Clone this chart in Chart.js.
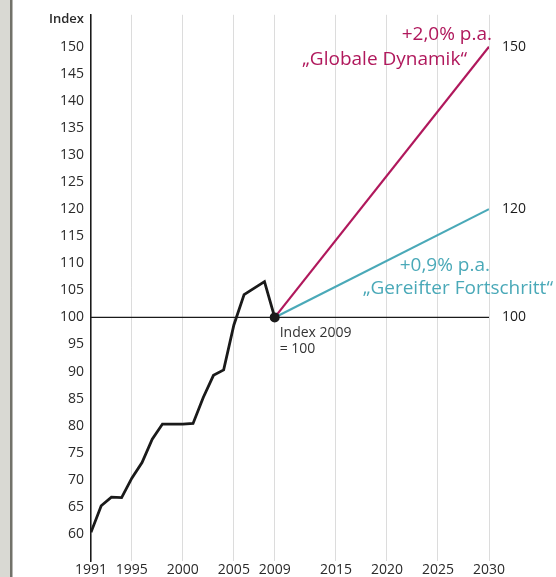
<!DOCTYPE html>
<html>
<head>
<meta charset="utf-8">
<script src="https://cdn.jsdelivr.net/npm/chart.js@4/dist/chart.umd.min.js"></script>
<style>
  html, body { margin: 0; padding: 0; background: #ffffff; }
  canvas { display: block; }
</style>
</head>
<body>
<canvas id="c" width="556" height="577"></canvas>
<script>
// Historical index (2009 = 100)
const histYears  = [1991, 1992, 1993, 1994, 1995, 1996, 1997, 1998, 1999, 2000,
                    2001, 2002, 2003, 2004, 2005, 2006, 2007, 2008, 2009];
const histValues = [60.3, 65.2, 66.8, 66.7, 70.3, 73.2, 77.5, 80.3, 80.3, 80.3,
                    80.4, 85.2, 89.3, 90.3, 98.6, 104.2, 105.4, 106.6, 100];

// Scenario paths 2009 -> 2030
const scenarioYears   = [2009, 2030];
const dynamikValues   = [100, 150];   // +2,0% p.a. "Globale Dynamik"
const fortschrValues  = [100, 120];   // +0,9% p.a. "Gereifter Fortschritt"

// Reference line at index 100
const baseYears  = [1991, 2030];
const baseValues = [100, 100];

// Axis ticks
const xTickYears  = [1991, 1995, 2000, 2005, 2009, 2015, 2020, 2025, 2030];
const yTickValues = [60, 65, 70, 75, 80, 85, 90, 95, 100, 105, 110, 115,
                     120, 125, 130, 135, 140, 145, 150];
const yHeaderValue = 155;
const yHeaderText  = 'Index';

const MAGENTA = '#b0185c';
const TEAL    = '#4aa9b8';
const INK     = '#1a1a1a';
const FONT    = '"Open Sans", "Noto Sans", sans-serif';

const toXY = (xs, ys) => xs.map((x, i) => ({ x, y: ys[i] }));

// Grey page margin strip on the left
const marginStrip = {
  id: 'marginStrip',
  beforeDraw(chart) {
    const ctx = chart.ctx;
    ctx.save();
    ctx.fillStyle = '#d9d9d3';
    ctx.fillRect(0, 0, 10, chart.height);
    ctx.fillStyle = '#72726a';
    ctx.fillRect(10, 0, 2.5, chart.height);
    ctx.restore();
  }
};

// Scenario captions and end-value labels
const captions = {
  id: 'captions',
  afterDatasetsDraw(chart) {
    const { ctx, scales: { x, y } } = chart;
    const xEnd = x.getPixelForValue(scenarioYears[1]);
    const xStart = x.getPixelForValue(scenarioYears[0]);
    const yHi = y.getPixelForValue(dynamikValues[1]);
    const yLo = y.getPixelForValue(fortschrValues[1]);
    const yBase = y.getPixelForValue(baseValues[1]);
    ctx.save();
    ctx.textBaseline = 'middle';

    ctx.font = '19px ' + FONT;
    ctx.textAlign = 'right';
    ctx.fillStyle = MAGENTA;
    ctx.fillText('+2,0% p.a.', xEnd + 3, yHi - 12);
    ctx.fillText('\u201EGlobale Dynamik\u201C', xEnd - 22, yHi + 13);

    ctx.fillStyle = TEAL;
    ctx.fillText('+0,9% p.a.', xEnd + 1, yLo + 56);
    ctx.fillText('\u201EGereifter Fortschritt\u201C', xEnd + 64, yLo + 79);

    ctx.font = '14px ' + FONT;
    ctx.textAlign = 'left';
    ctx.fillStyle = INK;
    ctx.fillText(String(dynamikValues[1]), xEnd + 13, yHi);
    ctx.fillText(String(fortschrValues[1]), xEnd + 13, yLo);
    ctx.fillText(String(baseValues[1]), xEnd + 13, yBase);

    ctx.font = '14px ' + FONT;
    ctx.fillStyle = '#333333';
    ctx.fillText('Index 2009', xStart + 5, yBase + 16);
    ctx.fillText('= 100', xStart + 5, yBase + 32);
    ctx.restore();
  }
};

const lastIdx = histYears.length - 1;

new Chart(document.getElementById('c'), {
  type: 'line',
  data: {
    datasets: [
      {
        data: toXY(histYears, histValues),
        borderColor: INK,
        borderWidth: 2.8,
        pointRadius: ctx => ctx.dataIndex === lastIdx ? 5 : 0,
        pointBackgroundColor: INK,
        pointBorderWidth: 0,
        tension: 0
      },
      {
        data: toXY(scenarioYears, dynamikValues),
        borderColor: MAGENTA,
        borderWidth: 2.2,
        pointRadius: 0
      },
      {
        data: toXY(scenarioYears, fortschrValues),
        borderColor: TEAL,
        borderWidth: 2.2,
        pointRadius: 0
      },
      {
        data: toXY(baseYears, baseValues),
        borderColor: INK,
        borderWidth: 1.4,
        pointRadius: 0
      }
    ]
  },
  options: {
    responsive: false,
    animation: false,
    devicePixelRatio: 1,
    layout: { padding: { left: 0, right: 67, top: 13, bottom: 0 } },
    plugins: {
      legend: { display: false },
      tooltip: { enabled: false }
    },
    scales: {
      x: {
        type: 'linear',
        min: 1991,
        max: 2030,
        afterBuildTicks: s => { s.ticks = xTickYears.map(v => ({ value: v })); },
        afterFit: s => { s.height = 16; },
        grid: { color: '#dcdcdc', lineWidth: 1, drawTicks: false },
        border: { display: false },
        ticks: {
          padding: 1,
          maxRotation: 0,
          autoSkip: false,
          color: '#2a2a2a',
          font: { family: FONT, size: 14 },
          callback: v => String(v)
        }
      },
      y: {
        type: 'linear',
        min: 55,
        max: 155.9,
        afterBuildTicks: s => {
          s.ticks = yTickValues.concat([yHeaderValue]).map(v => ({ value: v }));
        },
        afterFit: s => { s.width = 91; },
        grid: { drawOnChartArea: false, drawTicks: false },
        border: { display: true, color: INK, width: 1.5 },
        ticks: {
          padding: 7,
          autoSkip: false,
          color: '#2a2a2a',
          font: ctx => (ctx.tick && ctx.tick.value === yHeaderValue)
            ? { family: FONT, size: 13, weight: '600' }
            : { family: FONT, size: 14 },
          callback: v => v === yHeaderValue ? yHeaderText : String(v)
        }
      }
    }
  },
  plugins: [marginStrip, captions]
});
</script>
</body>
</html>
